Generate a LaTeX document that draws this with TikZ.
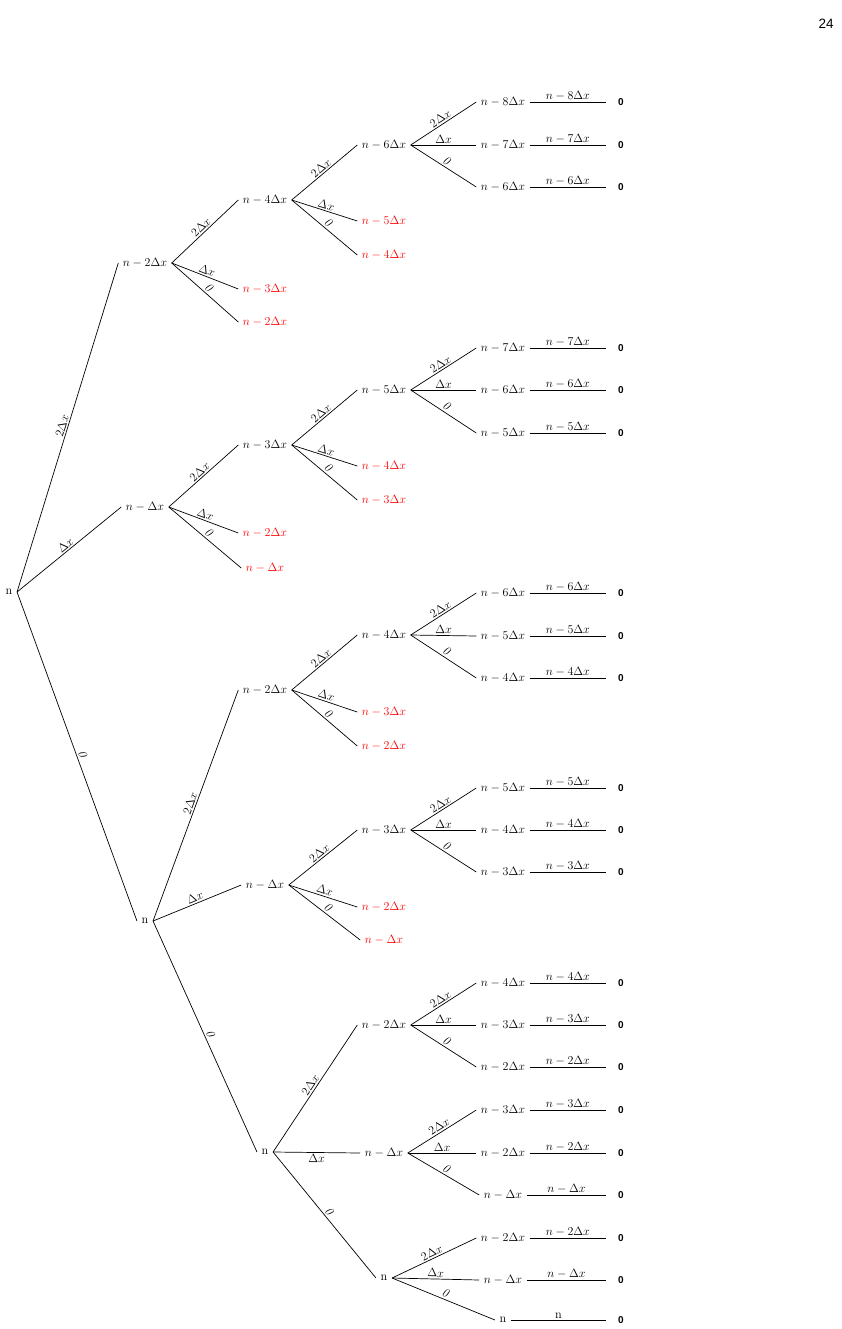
\documentclass[tikz,border=0pt]{standalone}
\usepackage{fontspec}
\newfontfamily\sansf{Liberation Sans}
\newcommand{\Ltwo}{$2\Delta x$}
\newcommand{\Lone}{$\Delta x$}
\newcommand{\Lzero}{\textit{0}}
\newcommand{\edg}[4][]{\draw[br] (#2.east) -- node[lab,#1]{#4} (#3.west);}
\newcommand{\mkleaf}[5]{%
  \node[tn] (#1) at (503,#2) {#3};
  \draw[br] (#4.east) -- node[lab]{#5} (#1.west);
  \coordinate (#1e) at (606,#2);
  \draw[br] (#1.east) -- node[above,inner sep=1.5pt]{#3} (#1e);
  \node[zer] (#1z) at (621,#2) {0};
}
\begin{document}
\begin{tikzpicture}[x=1pt,y=-1pt,
  every node/.style={font=\fontsize{12.3}{14}\selectfont},
  tn/.style={inner xsep=4.5pt,inner ysep=1pt},
  rn/.style={tn,text=red},
  br/.style={line width=0.7pt},
  lab/.style={sloped,above,inner sep=1.5pt,pos=0.5},
  zer/.style={font=\sansf\bfseries\fontsize{10}{12}\selectfont}]
\useasboundingbox (0,0) rectangle (842,1329);
\node[font=\sansf\fontsize{13.5}{15}\selectfont] (pg) at (826,24) {24};

% root and level 1
\node[tn] (r) at (9,592) {n};
\node[tn] (a) at (145,263) {$n-2\Delta x$};
\node[tn] (b) at (145,507) {$n-\Delta x$};
\node[tn] (c) at (145,921) {n};
\edg{r}{a}{\Ltwo}
\edg{r}{b}{\Lone}
\edg{r}{c}{\Lzero}

% branch a
\node[tn] (a1) at (265,200) {$n-4\Delta x$};
\node[rn] (a2) at (265,289) {$n-3\Delta x$};
\node[rn] (a3) at (265,322) {$n-2\Delta x$};
\edg{a}{a1}{\Ltwo}
\edg{a}{a2}{\Lone}
\edg{a}{a3}{\Lzero}
\node[tn] (a11) at (384,145) {$n-6\Delta x$};
\node[rn] (a12) at (384,221) {$n-5\Delta x$};
\node[rn] (a13) at (384,255) {$n-4\Delta x$};
\edg{a1}{a11}{\Ltwo}
\edg{a1}{a12}{\Lone}
\edg{a1}{a13}{\Lzero}
\mkleaf{la1}{102}{$n-8\Delta x$}{a11}{\Ltwo}
\mkleaf{la2}{145}{$n-7\Delta x$}{a11}{\Lone}
\mkleaf{la3}{187}{$n-6\Delta x$}{a11}{\Lzero}

% branch b
\node[tn] (b1) at (265,445) {$n-3\Delta x$};
\node[rn] (b2) at (265,533) {$n-2\Delta x$};
\node[rn] (b3) at (265,568) {$n-\Delta x$};
\edg{b}{b1}{\Ltwo}
\edg{b}{b2}{\Lone}
\edg{b}{b3}{\Lzero}
\node[tn] (b11) at (384,390) {$n-5\Delta x$};
\node[rn] (b12) at (384,466) {$n-4\Delta x$};
\node[rn] (b13) at (384,500) {$n-3\Delta x$};
\edg{b1}{b11}{\Ltwo}
\edg{b1}{b12}{\Lone}
\edg{b1}{b13}{\Lzero}
\mkleaf{lb1}{348}{$n-7\Delta x$}{b11}{\Ltwo}
\mkleaf{lb2}{390}{$n-6\Delta x$}{b11}{\Lone}
\mkleaf{lb3}{433}{$n-5\Delta x$}{b11}{\Lzero}

% branch c
\node[tn] (c1) at (265,690) {$n-2\Delta x$};
\node[tn] (c2) at (265,885) {$n-\Delta x$};
\node[tn] (c3) at (265,1152) {n};
\edg{c}{c1}{\Ltwo}
\edg{c}{c2}{\Lone}
\edg{c}{c3}{\Lzero}

\node[tn] (c11) at (384,635) {$n-4\Delta x$};
\node[rn] (c12) at (384,712) {$n-3\Delta x$};
\node[rn] (c13) at (384,746) {$n-2\Delta x$};
\edg{c1}{c11}{\Ltwo}
\edg{c1}{c12}{\Lone}
\edg{c1}{c13}{\Lzero}
\mkleaf{lc1}{593}{$n-6\Delta x$}{c11}{\Ltwo}
\mkleaf{lc2}{636}{$n-5\Delta x$}{c11}{\Lone}
\mkleaf{lc3}{678}{$n-4\Delta x$}{c11}{\Lzero}

\node[tn] (c21) at (384,830) {$n-3\Delta x$};
\node[rn] (c22) at (384,907) {$n-2\Delta x$};
\node[rn] (c23) at (384,940) {$n-\Delta x$};
\edg{c2}{c21}{\Ltwo}
\edg{c2}{c22}{\Lone}
\edg{c2}{c23}{\Lzero}
\mkleaf{ld1}{788}{$n-5\Delta x$}{c21}{\Ltwo}
\mkleaf{ld2}{830}{$n-4\Delta x$}{c21}{\Lone}
\mkleaf{ld3}{872}{$n-3\Delta x$}{c21}{\Lzero}

\node[tn] (c31) at (384,1025) {$n-2\Delta x$};
\node[tn] (c32) at (384,1153) {$n-\Delta x$};
\node[tn] (c33) at (384,1278) {n};
\edg{c3}{c31}{\Ltwo}
\edg[below]{c3}{c32}{\Lone}
\edg{c3}{c33}{\Lzero}
\mkleaf{le1}{983}{$n-4\Delta x$}{c31}{\Ltwo}
\mkleaf{le2}{1025}{$n-3\Delta x$}{c31}{\Lone}
\mkleaf{le3}{1067}{$n-2\Delta x$}{c31}{\Lzero}
\mkleaf{lf1}{1110}{$n-3\Delta x$}{c32}{\Ltwo}
\mkleaf{lf2}{1153}{$n-2\Delta x$}{c32}{\Lone}
\mkleaf{lf3}{1195}{$n-\Delta x$}{c32}{\Lzero}
\mkleaf{lg1}{1238}{$n-2\Delta x$}{c33}{\Ltwo}
\mkleaf{lg2}{1280}{$n-\Delta x$}{c33}{\Lone}
\mkleaf{lg3}{1320}{n}{c33}{\Lzero}
\end{tikzpicture}
\end{document}
